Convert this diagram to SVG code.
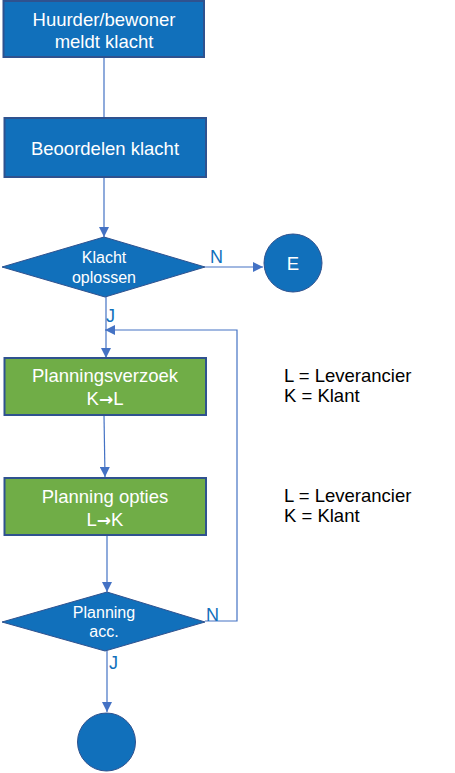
<svg xmlns="http://www.w3.org/2000/svg" width="455" height="773" viewBox="0 0 455 773">
<defs>
<style>
.box{fill:#1170bb;stroke:#2f528f;stroke-width:2}
.gbox{fill:#70ad47;stroke:#2f528f;stroke-width:2}
.dia{fill:#1170bb;stroke:#2f528f;stroke-width:1}
.circ{fill:#1170bb;stroke:#2f528f;stroke-width:1}
.t{font-family:"Liberation Sans",Arial,sans-serif;font-size:18.5px;fill:#ffffff;text-anchor:middle}
.td{font-family:"Liberation Sans",Arial,sans-serif;font-size:16px;fill:#ffffff;text-anchor:middle}
.lbl{font-family:"Liberation Sans",Arial,sans-serif;font-size:18px;fill:#1170bb}
.note{font-family:"Liberation Sans",Arial,sans-serif;font-size:18.5px;fill:#000000}
.arr{font-family:"DejaVu Sans",sans-serif;font-weight:bold;font-size:17px}
.c{fill:none;stroke:#4472c4;stroke-width:1.2}
</style>
<marker id="ahb" viewBox="0 0 10 10" refX="10" refY="5" markerWidth="10" markerHeight="10" markerUnits="userSpaceOnUse" orient="auto">
<path d="M0,0 L10,5 L0,10 z" fill="#4472c4"/>
</marker>
</defs>
<g id="connectors">
<line class="c" x1="104" y1="57" x2="104" y2="118"/>
<line class="c" x1="104" y1="177" x2="104" y2="237" marker-end="url(#ahb)"/>
<line class="c" x1="205" y1="267" x2="263" y2="267" marker-end="url(#ahb)"/>
<line class="c" x1="106" y1="297" x2="106" y2="358" marker-end="url(#ahb)"/>
<polyline class="c" points="205,621 237,621 237,330 105,330" marker-end="url(#ahb)"/>
<line class="c" x1="104" y1="415" x2="105" y2="477" marker-end="url(#ahb)"/>
<line class="c" x1="107" y1="535" x2="107" y2="592" marker-end="url(#ahb)"/>
<line class="c" x1="107" y1="651" x2="107" y2="712" marker-end="url(#ahb)"/>
<text class="lbl" x="210" y="263">N</text>
<text class="lbl" x="106" y="322">J</text>
<text class="lbl" x="206" y="621">N</text>
<text class="lbl" x="109" y="669">J</text>
</g>
<g id="n1">
<rect class="box" x="3.5" y="1" width="200.5" height="56"/>
<text class="t" x="104" y="26">Huurder/bewoner</text>
<text class="t" x="104" y="48">meldt klacht</text>
</g>
<g id="n2">
<rect class="box" x="4.5" y="118" width="201.5" height="59"/>
<text class="t" x="105" y="155">Beoordelen klacht</text>
</g>
<g id="d1">
<polygon class="dia" points="104,237 205,267 105,297 2,267"/>
<text class="td" x="104" y="263">Klacht</text>
<text class="td" x="104" y="283">oplossen</text>
</g>
<g id="e">
<circle class="circ" cx="293" cy="263" r="29"/>
<text class="t" x="293" y="270">E</text>
</g>
<g id="n3">
<rect class="gbox" x="4.5" y="358" width="201.5" height="57"/>
<text class="t" x="105" y="382">Planningsverzoek</text>
<text class="t" x="105" y="405">K<tspan class="arr">→</tspan>L</text>
</g>
<g id="n4">
<rect class="gbox" x="4.5" y="478" width="201.5" height="57"/>
<text class="t" x="105" y="503">Planning opties</text>
<text class="t" x="105" y="526">L<tspan class="arr">→</tspan>K</text>
</g>
<g id="d2">
<polygon class="dia" points="107,592 205,622 105,651 2,622"/>
<text class="td" x="104" y="618">Planning</text>
<text class="td" x="104" y="637">acc.</text>
</g>
<g id="end">
<circle class="circ" cx="106.5" cy="742" r="29"/>
</g>
<g id="notes">
<text class="note" x="284" y="382">L = Leverancier</text>
<text class="note" x="284" y="402">K = Klant</text>
<text class="note" x="284" y="502">L = Leverancier</text>
<text class="note" x="284" y="522">K = Klant</text>
</g>
</svg>
